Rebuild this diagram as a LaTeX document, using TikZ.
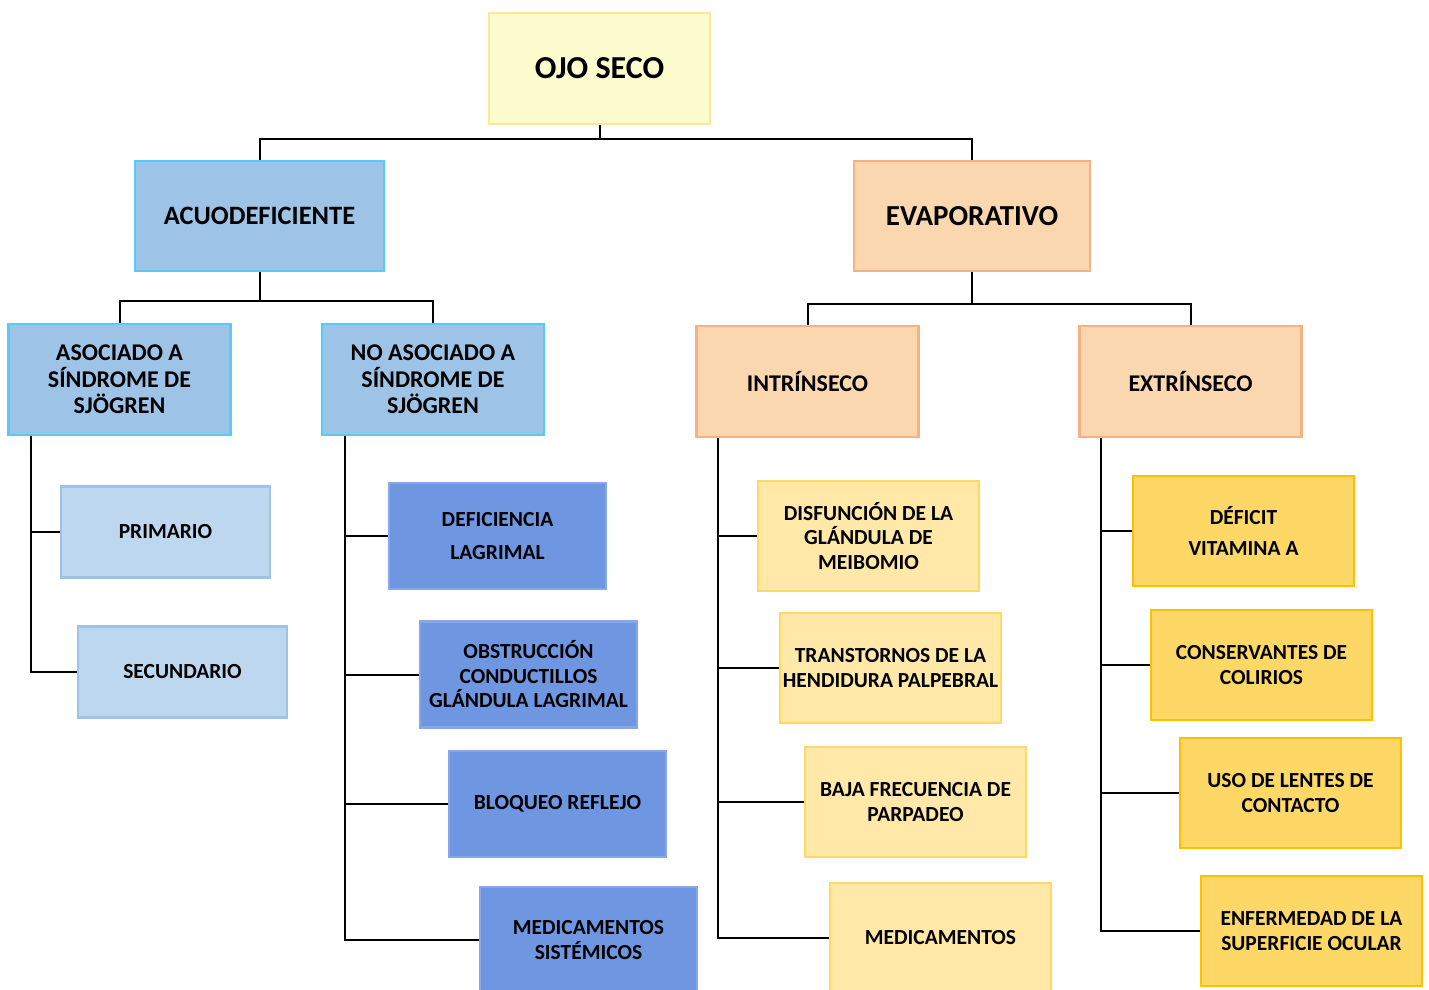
\documentclass[tikz,border=0pt]{standalone}
\usepackage{fontspec}
\setmainfont{Carlito}
\usetikzlibrary{positioning}
\definecolor{raizF}{HTML}{FDFCCF}
\definecolor{raizD}{HTML}{FFE699}
\definecolor{acuoF}{HTML}{9DC3E6}
\definecolor{acuoD}{HTML}{5BC8FA}
\definecolor{evapF}{HTML}{FBD7B0}
\definecolor{evapD}{HTML}{F4B183}
\definecolor{celF}{HTML}{BDD7EE}
\definecolor{celD}{HTML}{9DC3E6}
\definecolor{azulF}{HTML}{6E96E1}
\definecolor{azulD}{HTML}{86A8E6}
\definecolor{amaF}{HTML}{FFE8A8}
\definecolor{amaD}{HTML}{FFD966}
\definecolor{oroF}{HTML}{FDD866}
\definecolor{oroD}{HTML}{FFC000}
\tikzset{
  caja/.style  = {draw, line width=2.5pt, align=center, inner sep=2pt},
  raiz/.style  = {caja, fill=raizF, draw=raizD, minimum width=221pt, minimum height=111pt,
                  font=\fontsize{32}{37}\selectfont\bfseries},
  tipo/.style  = {caja, minimum height=110pt, font=\fontsize{26.5}{30}\selectfont\bfseries},
  sub/.style   = {caja, minimum width=222pt, minimum height=111pt,
                  font=\fontsize{24}{26.5}\selectfont\bfseries},
  hoja/.style  = {caja, font=\fontsize{21.5}{24.5}\selectfont\bfseries},
  hcel/.style  = {hoja, fill=celF, draw=celD, minimum width=209pt, minimum height=91pt},
  hazul/.style = {hoja, fill=azulF, draw=azulD, minimum width=217pt, minimum height=106pt},
  hama/.style  = {hoja, fill=amaF, draw=amaD, minimum width=221pt, minimum height=110pt},
  horo/.style  = {hoja, fill=oroF, draw=oroD, minimum width=221pt, minimum height=110pt},
  conn/.style  = {draw=black, line width=2pt},
}
\begin{document}
\begin{tikzpicture}[x=1pt, y=-1pt]
  \useasboundingbox (0,0) rectangle (1429,990);
  \node[raiz] (ojo) at (599.5,68.5) {OJO SECO};
  \node[tipo, fill=acuoF, draw=acuoD, minimum width=249pt] (acuo) at (259.5,216) {ACUODEFICIENTE};
  \node[tipo, fill=evapF, draw=evapD, minimum width=236pt,
        font=\fontsize{29}{33}\selectfont\bfseries] (evap) at (972,216) {EVAPORATIVO};
  \node[sub, fill=acuoF, draw=acuoD] (aso) at (119.5,379.5) {ASOCIADO A\\SÍNDROME DE\\SJÖGREN};
  \node[sub, fill=acuoF, draw=acuoD] (noaso) at (433,379.5) {NO ASOCIADO A\\SÍNDROME DE\\SJÖGREN};
  \node[sub, fill=evapF, draw=evapD] (intr) at (807.5,381.5) {INTRÍNSECO};
  \node[sub, fill=evapF, draw=evapD] (extr) at (1190.5,381.5) {EXTRÍNSECO};
  \node[hcel] (prim) at (165.5,532) {PRIMARIO};
  \node[hcel] (secu) at (182.5,672) {SECUNDARIO};
  \node[hazul] (defl) at (497.5,536) {DEFICIENCIA\\[9pt]LAGRIMAL};
  \node[hazul] (obst) at (528.5,674.5) {OBSTRUCCIÓN\\CONDUCTILLOS\\GLÁNDULA LAGRIMAL};
  \node[hazul] (bloq) at (557.5,804) {BLOQUEO REFLEJO};
  \node[hazul] (medsis) at (588.5,940) {MEDICAMENTOS\\SISTÉMICOS};
  \node[hama] (disf) at (868.5,536) {DISFUNCIÓN DE LA\\GLÁNDULA DE\\MEIBOMIO};
  \node[hama] (trans) at (890.5,668) {TRANSTORNOS DE LA\\HENDIDURA PALPEBRAL};
  \node[hama] (baja) at (915.5,802) {BAJA FRECUENCIA DE\\PARPADEO};
  \node[hama] (medic) at (940.5,938) {MEDICAMENTOS};
  \node[horo] (defi) at (1243.5,531) {DÉFICIT\\[7pt]VITAMINA A};
  \node[horo] (cons) at (1261.5,665) {CONSERVANTES DE\\COLIRIOS};
  \node[horo] (uso) at (1290.5,793) {USO DE LENTES DE\\CONTACTO};
  \node[horo] (enfe) at (1311.5,931) {ENFERMEDAD DE LA\\SUPERFICIE OCULAR};
  \draw[conn] (ojo.south) -- ++(0,14) -| (acuo.north);
  \draw[conn] (ojo.south) -- ++(0,14) -| (evap.north);
  \draw[conn] (acuo.south) -- ++(0,29) -| (aso.north);
  \draw[conn] (acuo.south) -- ++(0,29) -| (noaso.north);
  \draw[conn] (evap.south) -- ++(0,32) -| (intr.north);
  \draw[conn] (evap.south) -- ++(0,32) -| (extr.north);
  \foreach \h in {prim,secu}
    \draw[conn] ([xshift=24pt]aso.south west) |- (\h.west);
  \foreach \h in {defl,obst,bloq,medsis}
    \draw[conn] ([xshift=24pt]noaso.south west) |- (\h.west);
  \foreach \h in {disf,trans,baja,medic}
    \draw[conn] ([xshift=23pt]intr.south west) |- (\h.west);
  \foreach \h in {defi,cons,uso,enfe}
    \draw[conn] ([xshift=23pt]extr.south west) |- (\h.west);
\end{tikzpicture}
\end{document}
